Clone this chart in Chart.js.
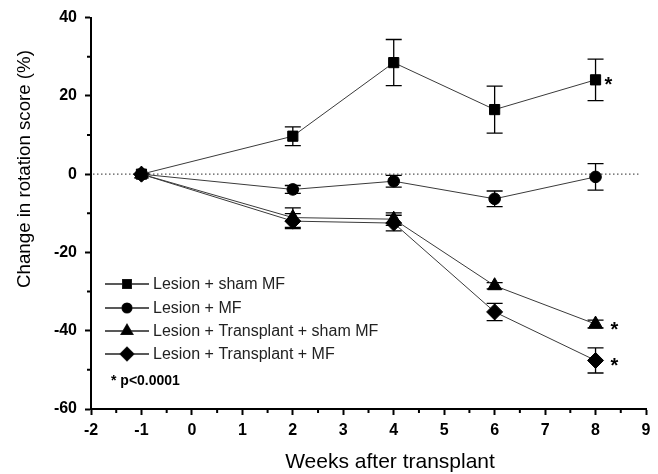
<!DOCTYPE html>
<html>
<head>
<meta charset="utf-8">
<script src="https://cdn.jsdelivr.net/npm/chart.js@4.4.1/dist/chart.umd.min.js"></script>
<style>
  html, body { margin: 0; padding: 0; background: #fff; }
  #wrap { width: 658px; height: 474px; }
</style>
</head>
<body>
<div id="wrap"><canvas id="c" width="658" height="474"></canvas></div>
<script>
// weeks after transplant
const weeks = [-1, 2, 4, 6, 8];

// mean change in rotation score (%) and SEM per group
const shamMF      = [0, 9.7, 28.5, 16.5, 24.1];
const shamMFErr   = [0, 2.4, 5.9, 6.0, 5.3];
const lesionMF    = [0, -3.9, -1.8, -6.3, -0.7];
const lesionMFErr = [0, 1.0, 1.5, 2.0, 3.4];
const txSham      = [0, -11.1, -11.5, -28.5, -38.3];
const txShamErr   = [0, 2.5, 1.6, 0.8, 1.0];
const txMF        = [0, -12.0, -12.5, -35.2, -47.6];
const txMFErr     = [0, 1.9, 2.0, 2.2, 3.2];

const groupLabels = ['Lesion + sham MF', 'Lesion + MF', 'Lesion + Transplant + sham MF', 'Lesion + Transplant + MF'];
const pointStyles = ['rect', 'circle', 'triangle', 'rectRot'];
const pointSizes  = [7.2, 5.8, 8, 8];
const starred     = [true, false, true, true];

const xTicks = { min: -2, max: 9, step: 1, minor: 0.5 };
const yTicks = { min: -60, max: 40, step: 20, minor: 10 };

const FONT = "'Liberation Sans', Arial, Helvetica, sans-serif";

const series = [shamMF, lesionMF, txSham, txMF];
const errs = [shamMFErr, lesionMFErr, txShamErr, txMFErr];

const datasets = series.map((vals, i) => ({
  label: groupLabels[i],
  data: weeks.map((w, j) => ({ x: w, y: vals[j] })),
  err: errs[i],
  borderColor: '#3a3a3a',
  borderWidth: 1,
  backgroundColor: '#000',
  pointBackgroundColor: '#000',
  pointBorderColor: '#000',
  pointBorderWidth: 1,
  pointStyle: pointStyles[i],
  pointRadius: pointSizes[i],
  tension: 0
}));

// dotted zero line, error bars, minor ticks
const decor = {
  id: 'decor',
  beforeDatasetsDraw(chart) {
    const { ctx, scales: { x, y } } = chart;
    ctx.save();
    ctx.strokeStyle = '#555';
    ctx.lineWidth = 1.2;
    ctx.setLineDash([1.5, 2.5]);
    ctx.beginPath();
    ctx.moveTo(x.left + 2, y.getPixelForValue(0));
    ctx.lineTo(x.getPixelForValue(8.85), y.getPixelForValue(0));
    ctx.stroke();
    ctx.setLineDash([]);

    ctx.strokeStyle = '#000';
    ctx.lineWidth = 1.3;
    chart.data.datasets.forEach(ds => {
      ds.data.forEach((p, j) => {
        const e = ds.err[j];
        if (!e) return;
        const px = x.getPixelForValue(p.x);
        const top = y.getPixelForValue(p.y + e);
        const bot = y.getPixelForValue(p.y - e);
        ctx.beginPath();
        ctx.moveTo(px, top); ctx.lineTo(px, bot);
        ctx.moveTo(px - 8, top); ctx.lineTo(px + 8, top);
        ctx.moveTo(px - 8, bot); ctx.lineTo(px + 8, bot);
        ctx.stroke();
      });
    });

    // minor ticks
    ctx.lineWidth = 2;
    ctx.beginPath();
    for (let v = xTicks.min + xTicks.minor; v < xTicks.max; v += xTicks.step) {
      const px = x.getPixelForValue(v);
      ctx.moveTo(px, y.bottom); ctx.lineTo(px, y.bottom + 4);
    }
    for (let v = yTicks.min + yTicks.minor; v < yTicks.max; v += yTicks.step) {
      const py = y.getPixelForValue(v);
      ctx.moveTo(x.left, py); ctx.lineTo(x.left - 4, py);
    }
    ctx.stroke();
    ctx.restore();
  },
  afterDraw(chart) {
    const { ctx, scales: { x, y } } = chart;
    ctx.save();
    ctx.fillStyle = '#000';

    // significance stars
    ctx.font = 'bold 20px ' + FONT;
    ctx.textBaseline = 'middle';
    ctx.textAlign = 'left';
    chart.data.datasets.forEach((ds, i) => {
      if (!starred[i]) return;
      const last = ds.data[ds.data.length - 1];
      const px = x.getPixelForValue(last.x) + (i === 0 ? 9 : 15);
      const py = y.getPixelForValue(last.y) + 6;
      ctx.fillText('*', px, py);
    });

    // legend
    const lx = 105, rows = [284, 308, 331, 354];
    chart.data.datasets.forEach((ds, i) => {
      const ry = rows[i];
      ctx.strokeStyle = '#222';
      ctx.lineWidth = 1.3;
      ctx.beginPath();
      ctx.moveTo(lx, ry); ctx.lineTo(lx + 44, ry);
      ctx.stroke();
      Chart.helpers.drawPoint(ctx, {
        pointStyle: ds.pointStyle, radius: ds.pointRadius * 0.85, borderWidth: 1
      }, lx + 22, ry);
      ctx.fill();
      ctx.font = '16px ' + FONT;
      ctx.fillStyle = '#222';
      ctx.textBaseline = 'middle';
      ctx.fillText(ds.label, lx + 48, ry + 1);
      ctx.fillStyle = '#000';
    });
    ctx.font = 'bold 14px ' + FONT;
    ctx.fillText('* p<0.0001', 111, 381);

    // axis titles
    ctx.font = '21px ' + FONT;
    ctx.textAlign = 'center';
    ctx.textBaseline = 'alphabetic';
    ctx.fillText('Weeks after transplant', 390, 468);
    ctx.translate(25, 169);
    ctx.rotate(-Math.PI / 2);
    ctx.font = '18.7px ' + FONT;
    ctx.textBaseline = 'middle';
    ctx.fillText('Change in rotation score (%)', 0, 0);
    ctx.restore();
  }
};

new Chart(document.getElementById('c'), {
  type: 'line',
  data: { datasets },
  plugins: [decor],
  options: {
    responsive: false,
    animation: false,
    events: [],
    layout: { padding: { top: 16, right: 12, left: 0, bottom: 0 } },
    plugins: { legend: { display: false }, tooltip: { enabled: false } },
    scales: {
      x: {
        type: 'linear',
        min: xTicks.min, max: xTicks.max,
        afterFit(s) { s.height = 65; },
        border: { display: true, color: '#000', width: 2 },
        grid: { drawOnChartArea: false, drawTicks: true, tickLength: 6, tickWidth: 2, tickColor: '#000' },
        ticks: {
          stepSize: xTicks.step, autoSkip: false, maxRotation: 0, padding: 6,
          color: '#000', font: { family: FONT, size: 16, weight: 'bold' }
        }
      },
      y: {
        min: yTicks.min, max: yTicks.max,
        afterFit(s) { s.width = 91; },
        border: { display: true, color: '#000', width: 2 },
        grid: { drawOnChartArea: false, drawTicks: true, tickLength: 6, tickWidth: 2, tickColor: '#000' },
        ticks: {
          stepSize: yTicks.step, padding: 8,
          color: '#000', font: { family: FONT, size: 16, weight: 'bold' }
        }
      }
    }
  }
});
</script>
</body>
</html>
